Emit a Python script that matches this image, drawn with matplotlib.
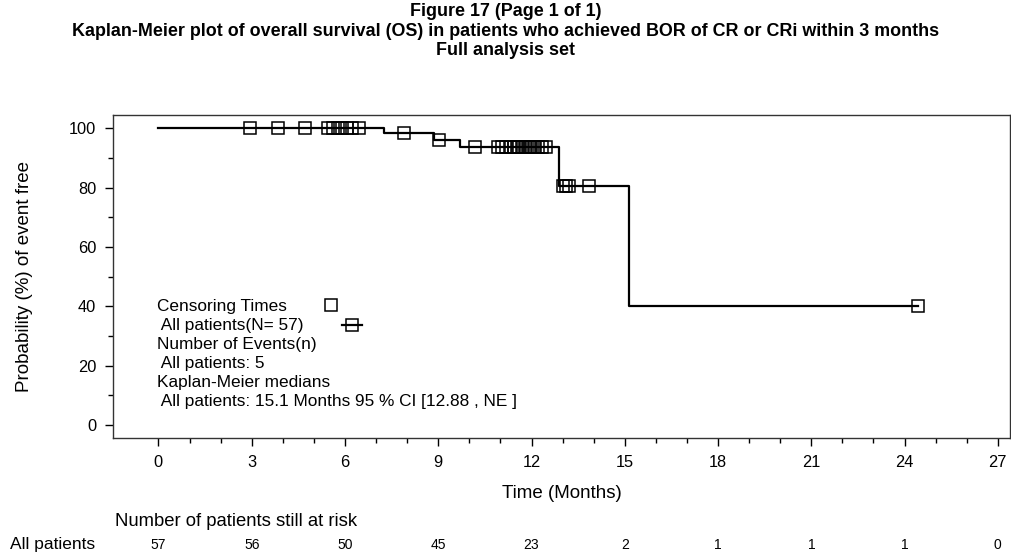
import numpy as np
import matplotlib
matplotlib.use("Agg")
import matplotlib.pyplot as plt
from matplotlib.ticker import MultipleLocator
from matplotlib import font_manager

plt.rcParams["font.family"] = ["Liberation Sans", "DejaVu Sans"]

# Kaplan-Meier step curve (months, % event free)
event_times = [0.0, 7.24, 8.85, 9.69, 12.87, 15.13]
surv_levels = [100.0, 98.2, 96.0, 93.7, 80.4, 40.2]

# censoring times (months)
censor_times = [2.93, 3.86, 4.70, 5.45, 5.62, 5.78, 5.92, 6.08, 6.22, 6.45,
                7.90, 9.04, 10.17,
                10.91, 11.04, 11.17, 11.33, 11.43, 11.52, 11.59, 11.68, 11.78,
                11.88, 11.94, 12.01, 12.10, 12.20, 12.33, 12.46,
                13.00, 13.10, 13.20, 13.84, 24.43]

risk_times = [0, 3, 6, 9, 12, 15, 18, 21, 24, 27]
risk_counts = [57, 56, 50, 45, 23, 2, 1, 1, 1, 0]

title_lines = [
    "Figure 17 (Page 1 of 1)",
    "Kaplan-Meier plot of overall survival (OS) in patients who achieved BOR of CR or CRi within 3 months",
    "Full analysis set",
]

legend_lines = [
    "Censoring Times",
    " All patients(N= 57)",
    "Number of Events(n)",
    " All patients: 5",
    "Kaplan-Meier medians",
    " All patients: 15.1 Months 95 % CI [12.88 , NE ]",
]

names = {f.name for f in font_manager.fontManager.ttflist}
title_family = ["Liberation Sans Narrow"] if "Liberation Sans Narrow" in names else ["Liberation Sans"]
title_size = 14.5 if title_family[0] == "Liberation Sans Narrow" else 12.9

fig = plt.figure(figsize=(10.12, 5.52), dpi=100)
ax = fig.add_axes([0.1117, 0.2065, 0.8863, 0.585])

# step curve up to last censored time
xs = event_times + [censor_times[-1]]
ys = surv_levels + [surv_levels[-1]]
ax.step(xs, ys, where="post", color="black", lw=1.6)

idx = np.searchsorted(event_times, censor_times, side="right") - 1
c_levels = np.array(surv_levels)[idx]
ax.plot(censor_times, c_levels, ls="none", marker="s", ms=8.5,
        mfc="none", mec="black", mew=1.1)

ax.set_xlim(-1.46, 27.39)
ax.set_ylim(-4.4, 104.4)
ax.set_xticks([t for t in range(0, 28, 3)])
ax.set_xticks([t for t in range(0, 28) if t % 3], minor=True)
ax.yaxis.set_major_locator(MultipleLocator(20))
ax.yaxis.set_minor_locator(MultipleLocator(10))
ax.tick_params(which="major", length=6, width=1, labelsize=11.8, pad=6)
ax.tick_params(which="minor", length=3.5, width=1)
for sp in ax.spines.values():
    sp.set_linewidth(1.0)
    sp.set_color("#333333")

ax.set_xlabel("Time (Months)", fontsize=13.5, labelpad=11)
ax.set_ylabel("Probability (%) of event free", fontsize=13.5, labelpad=26)

# in-plot legend block
y0 = 39.8
dy = 6.35
for i, line in enumerate(legend_lines):
    ax.text(-0.05, y0 - i * dy, line, fontsize=12.4, va="center", ha="left")
ax.plot([5.56], [40.3], ls="none", marker="s", ms=8.5, mfc="none", mec="black", mew=1.1)
ax.plot([5.92, 6.56], [33.8, 33.8], color="black", lw=1.6)
ax.plot([6.24], [33.8], ls="none", marker="s", ms=8.5, mfc="none", mec="black", mew=1.1)

# titles
for i, line in enumerate(title_lines):
    fig.text(0.5, 1 - (11.5 + i * 19.5) / 552, line, ha="center", va="center",
             fontsize=title_size, fontweight="bold", family=title_family)

# number at risk table
fig.text(115 / 1012, 1 - 522 / 552, "Number of patients still at risk",
         fontsize=13.3, ha="left", va="center")
fig.text(10 / 1012, 1 - 545 / 552, "All patients", fontsize=12.5, ha="left", va="center")
for t, n in zip(risk_times, risk_counts):
    ax.annotate(str(n), xy=(t, 0), xycoords=("data", "figure fraction"),
                xytext=(0, 5), textcoords="offset points",
                ha="center", va="center", fontsize=10)

fig.savefig("out.png", dpi=100)
